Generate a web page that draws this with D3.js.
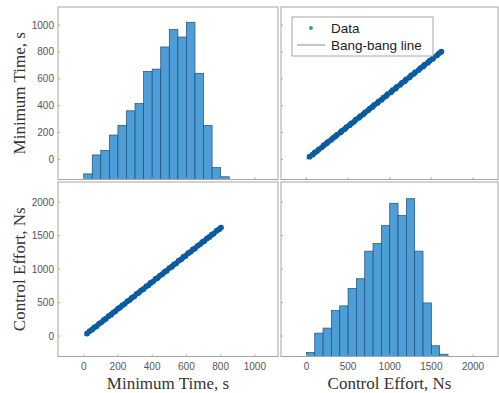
<!doctype html>
<html>
<head>
  <meta charset="utf-8">
  <title>Minimum time vs control effort</title>
  <style>
    body { margin: 0; background: #fff; }
    svg { display: block; }
  </style>
</head>
<body>
  <svg></svg>
  <script src="https://cdnjs.cloudflare.com/ajax/libs/d3/7.8.5/d3.min.js"></script>
  <script>
  // tick values for the two variables
  var timeTicks = [0, 200, 400, 600, 800, 1000];
  var effortTicks = [0, 500, 1000, 1500, 2000];

  // histogram of minimum time (bin edges in s, counts)
  var timeEdges = [0, 50, 100, 150, 200, 250, 300, 350, 400, 450, 500, 550, 600, 650, 700, 750, 800, 850];
  var timeCounts = [35, 153, 182, 277, 337, 428, 473, 674, 688, 826, 934, 888, 980, 662, 337, 74, 17];

  // histogram of control effort (bin edges in Ns, counts)
  var effortEdges = [0, 100, 200, 300, 400, 500, 600, 700, 800, 900, 1000, 1100, 1200, 1300, 1400, 1500, 1600, 1700];
  var effortCounts = [25, 144, 175, 283, 312, 420, 479, 649, 696, 806, 944, 868, 972, 649, 330, 66, 14];

  // scatter samples: minimum time (s) and control effort (Ns)
  var dataTime = [20, 35, 50, 62, 75, 90, 105, 118, 130, 145, 160, 172, 185, 200, 212, 225, 240, 255, 268, 280,
    295, 310, 322, 335, 350, 365, 378, 390, 405, 420, 432, 445, 460, 472, 485, 500, 515, 528, 540, 555,
    570, 582, 595, 610, 625, 638, 650, 665, 680, 692, 705, 720, 735, 748, 760, 775, 790, 802];
  var dataEffort = [38, 74, 98, 128, 148, 185, 209, 241, 259, 296, 320, 350, 371, 408, 425, 458, 481, 518, 538, 570,
    592, 630, 647, 681, 703, 741, 760, 792, 814, 853, 868, 903, 925, 957, 975, 1015, 1035, 1071, 1086, 1126,
    1146, 1180, 1197, 1236, 1257, 1292, 1308, 1347, 1369, 1401, 1420, 1458, 1480, 1514, 1530, 1569, 1592, 1620];

  // bang-bang line end points
  var lineTime = [0, 810];
  var lineEffort = [0, 1640];

  var width = 499, height = 393;
  var svg = d3.select("svg").attr("width", width).attr("height", height);

  var xT = d3.scaleLinear().domain([-150, 1135]).range([58, 278]);
  var xE = d3.scaleLinear().domain([-305, 2300]).range([281, 498]);
  var yT = d3.scaleLinear().domain([-150, 1135]).range([179.5, 7]);
  var yE = d3.scaleLinear().domain([-305, 2300]).range([356.5, 182]);

  var barFill = "#4d9dd6", barStroke = "#1d4f7a", dotColor = "#0a5b9f";
  var frameColor = "#a6a6a6", tickText = "#555";

  var panels = [
    { x: xT, y: yT, kind: "hist", edges: timeEdges, counts: timeCounts },
    { x: xE, y: yT, kind: "scatter", xs: dataEffort, ys: dataTime, lx: lineEffort, ly: lineTime },
    { x: xT, y: yE, kind: "scatter", xs: dataTime, ys: dataEffort, lx: lineTime, ly: lineEffort },
    { x: xE, y: yE, kind: "hist", edges: effortEdges, counts: effortCounts }
  ];

  panels.forEach(function(p) {
    var x0 = p.x.range()[0], x1 = p.x.range()[1];
    var y0 = p.y.range()[1], y1 = p.y.range()[0];
    var g = svg.append("g");

    g.append("rect")
      .attr("x", x0).attr("y", y0)
      .attr("width", x1 - x0).attr("height", y1 - y0)
      .attr("fill", "#fff");

    if (p.kind == "hist") {
      var hy = d3.scaleLinear().domain([0, 1075]).range([y1, y0]);
      g.selectAll("rect.bar")
        .data(p.counts)
        .enter().append("rect")
        .attr("class", "bar")
        .attr("x", function(d, j) { return p.x(p.edges[j]); })
        .attr("width", function(d, j) { return p.x(p.edges[j + 1]) - p.x(p.edges[j]); })
        .attr("y", function(d) { return hy(d); })
        .attr("height", function(d) { return y1 - hy(d); })
        .attr("fill", barFill)
        .attr("stroke", barStroke)
        .attr("stroke-width", 0.7);
    } else {
      g.append("line")
        .attr("x1", p.x(p.lx[0])).attr("y1", p.y(p.ly[0]))
        .attr("x2", p.x(p.lx[1])).attr("y2", p.y(p.ly[1]))
        .attr("stroke", "#8a8a8a").attr("stroke-width", 1);
      g.selectAll("circle")
        .data(p.xs)
        .enter().append("circle")
        .attr("cx", function(d) { return p.x(d); })
        .attr("cy", function(d, j) { return p.y(p.ys[j]); })
        .attr("r", 2.9)
        .attr("fill", dotColor);
    }

    // small inward ticks on left and bottom edges
    var xt = p.x === xT ? timeTicks : effortTicks;
    var yt = p.y === yT ? timeTicks : effortTicks;
    g.selectAll("line.xt").data(xt).enter().append("line")
      .attr("class", "xt")
      .attr("x1", function(d) { return p.x(d); }).attr("x2", function(d) { return p.x(d); })
      .attr("y1", y1).attr("y2", y1 - 2)
      .attr("stroke", frameColor);
    g.selectAll("line.yt").data(yt).enter().append("line")
      .attr("class", "yt")
      .attr("y1", function(d) { return p.y(d); }).attr("y2", function(d) { return p.y(d); })
      .attr("x1", x0).attr("x2", x0 + 2)
      .attr("stroke", frameColor);

    g.append("rect")
      .attr("x", x0).attr("y", y0)
      .attr("width", x1 - x0).attr("height", y1 - y0)
      .attr("fill", "none")
      .attr("stroke", frameColor)
      .attr("stroke-width", 1);
  });

  // tick labels
  var tickFont = "'Liberation Sans', Arial, sans-serif";
  function yLabels(scale, ticks) {
    svg.append("g").selectAll("text").data(ticks).enter().append("text")
      .attr("x", 54).attr("y", function(d) { return scale(d); })
      .attr("dy", "0.35em")
      .attr("text-anchor", "end")
      .style("font", "10px " + tickFont)
      .attr("fill", tickText)
      .text(function(d) { return d; });
  }
  function xLabels(scale, ticks) {
    svg.append("g").selectAll("text").data(ticks).enter().append("text")
      .attr("x", function(d) { return scale(d); }).attr("y", 370)
      .attr("text-anchor", "middle")
      .style("font", "10px " + tickFont)
      .attr("fill", tickText)
      .text(function(d) { return d; });
  }
  yLabels(yT, timeTicks);
  yLabels(yE, effortTicks);
  xLabels(xT, timeTicks);
  xLabels(xE, effortTicks);

  // axis titles
  var titleFont = "17px 'Liberation Serif', 'DejaVu Serif', serif";
  svg.append("text")
    .attr("transform", "translate(25," + ((yT.range()[0] + yT.range()[1]) / 2) + ") rotate(-90)")
    .attr("text-anchor", "middle").style("font", titleFont).attr("fill", "#333")
    .text("Minimum Time, s");
  svg.append("text")
    .attr("transform", "translate(25," + ((yE.range()[0] + yE.range()[1]) / 2) + ") rotate(-90)")
    .attr("text-anchor", "middle").style("font", titleFont).attr("fill", "#333")
    .text("Control Effort, Ns");
  svg.append("text")
    .attr("x", (xT.range()[0] + xT.range()[1]) / 2).attr("y", 389)
    .attr("text-anchor", "middle").style("font", titleFont).attr("fill", "#333")
    .text("Minimum Time, s");
  svg.append("text")
    .attr("x", (xE.range()[0] + xE.range()[1]) / 2).attr("y", 389)
    .attr("text-anchor", "middle").style("font", titleFont).attr("fill", "#333")
    .text("Control Effort, Ns");

  // legend in the top-right panel
  var lg = svg.append("g").attr("transform", "translate(292,17)");
  lg.append("rect").attr("width", 141).attr("height", 39)
    .attr("fill", "#fff").attr("stroke", frameColor).attr("stroke-width", 1);
  lg.append("circle").attr("cx", 19).attr("cy", 11).attr("r", 2).attr("fill", "#4a90d0");
  lg.append("text").attr("x", 39).attr("y", 11).attr("dy", "0.35em")
    .style("font", "13.5px " + tickFont).attr("fill", "#222").text("Data");
  lg.append("line").attr("x1", 5).attr("x2", 33).attr("y1", 28).attr("y2", 28)
    .attr("stroke", "#8a8a8a").attr("stroke-width", 1);
  lg.append("text").attr("x", 39).attr("y", 28).attr("dy", "0.35em")
    .style("font", "13.5px " + tickFont).attr("fill", "#222").text("Bang-bang line");
  </script>
</body>
</html>
